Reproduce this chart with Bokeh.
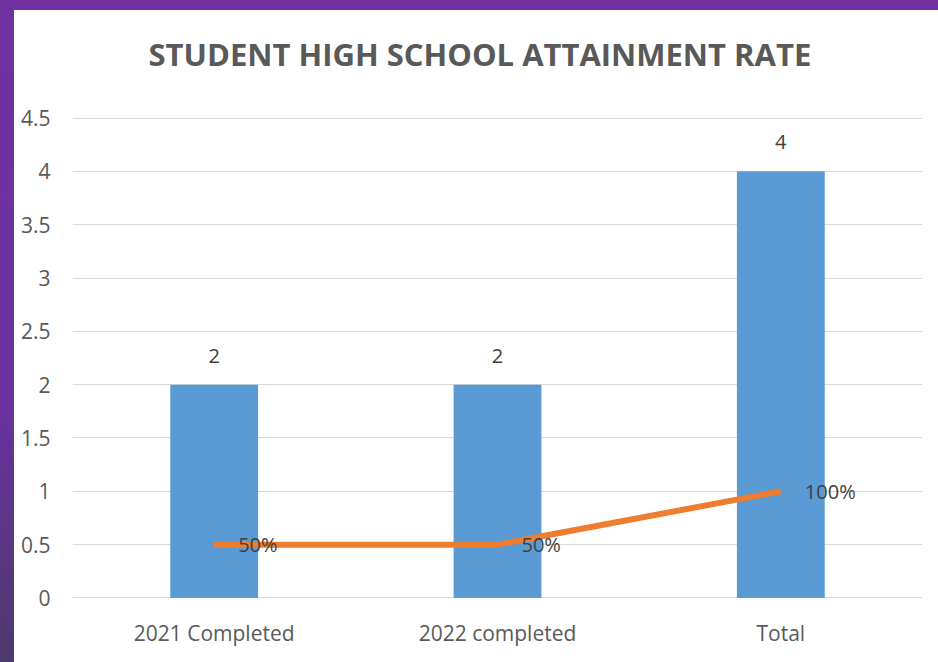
from bokeh.plotting import figure
from bokeh.models import ColumnDataSource, Range1d, FactorRange, LabelSet, Title, FixedTicker, NumeralTickFormatter
from bokeh.core.properties import value
from bokeh.layouts import column
from bokeh.embed import file_html
from bokeh.resources import INLINE

categories = ["2021 Completed", "2022 completed", "Total"]
counts = [2, 2, 4]
rates = [0.5, 0.5, 1.0]
rate_labels = ["50%", "50%", "100%"]
y_ticks = [0, 0.5, 1, 1.5, 2, 2.5, 3, 3.5, 4, 4.5]
title_text = "STUDENT HIGH SCHOOL ATTAINMENT RATE"

src = ColumnDataSource(dict(cat=categories, count=[str(c) for c in counts], n=counts,
                            rate=rates, rlab=rate_labels))

FONT = "Open Sans"
p = figure(x_range=FactorRange(*categories), y_range=Range1d(-0.005, 4.505),
           width=924, height=652, output_backend="svg", toolbar_location=None,
           min_border_left=58, min_border_right=16, min_border_top=107, min_border_bottom=64,
           background_fill_color="white", border_fill_color="white", outline_line_color=None,
           styles={"background-color": "white"})

# real title (outer), spacer title added next to the frame
p.title.text = title_text
p.title.align = "left"
p.title.offset = 76
p.title.text_font = FONT
p.title.text_font_style = "bold"
p.title.text_font_size = "31px"
p.title.text_color = "#595959"
p.title.standoff = 0

p.add_layout(Title(text=" ", text_font_size="1px", standoff=40), "above")

p.vbar(x="cat", top="n", width=0.31, source=src, fill_color="#5B9BD5", line_color=None)
p.line(x="cat", y="rate", source=src, line_color="#ED7D31", line_width=6)

p.add_layout(LabelSet(x="cat", y="n", text="count", source=src, y_offset=29,
                      text_align="center", text_baseline="middle", text_font=value(FONT),
                      text_font_size=value("20px"), text_color="#404040"))
p.add_layout(LabelSet(x="cat", y="rate", text="rlab", source=src, x_offset=24,
                      text_align="left", text_baseline="middle", text_font=value(FONT),
                      text_font_size=value("20px"), text_color="#404040"))

p.yaxis.ticker = FixedTicker(ticks=y_ticks)
p.yaxis.formatter = NumeralTickFormatter(format="0.[0]")
for ax in (p.xaxis[0], p.yaxis[0]):
    ax.axis_line_color = None
    ax.major_tick_line_color = None
    ax.minor_tick_line_color = None
    ax.major_label_text_font = FONT
    ax.major_label_text_font_size = "21px"
    ax.major_label_text_color = "#595959"
p.yaxis.major_label_standoff = 16
p.xaxis.major_label_standoff = 14
p.xgrid.grid_line_color = None
p.ygrid.grid_line_color = "#D9D9D9"
p.ygrid.grid_line_width = 1

layout = column(p, styles={"background": "linear-gradient(180deg, #7030A0 0%, #6a32a0 60%, #4d3a6e 100%)",
                           "padding": "10px 0px 0px 14px"})

open("out.html", "w").write(file_html(layout, INLINE))
